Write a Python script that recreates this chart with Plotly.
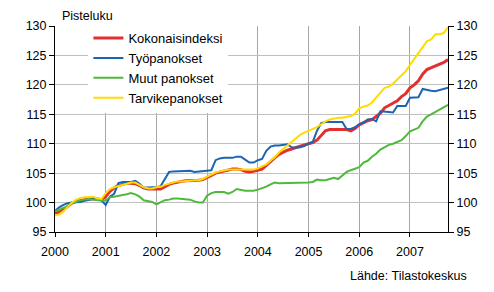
import plotly.graph_objects as go

start_year = 2000
years = [2000, 2001, 2002, 2003, 2004, 2005, 2006, 2007]
y_ticks = [95, 100, 105, 110, 115, 120, 125, 130]

kokonaisindeksi = [
    98.2, 98.4, 98.8, 99.3, 99.9, 100.2, 100.4, 100.5, 100.6, 100.7, 100.6, 100.5,
    101.0, 101.9, 102.5, 102.9, 103.1, 103.3, 103.3, 103.2, 102.9, 102.5, 102.3, 102.3,
    102.2, 102.3, 102.7, 103.1, 103.3, 103.5, 103.6, 103.7, 103.7, 103.8, 103.8, 103.9,
    104.2, 104.6, 105.0, 105.2, 105.4, 105.6, 105.7, 105.7, 105.6, 105.3, 105.2, 105.3,
    105.5, 105.7, 106.3, 107.0, 107.6, 108.2, 108.6, 108.9, 109.1, 109.4, 109.6, 109.8,
    110.0, 110.2, 110.6, 111.5, 112.2, 112.4, 112.4, 112.5, 112.5, 112.4, 112.2, 112.6,
    113.2, 113.6, 113.9, 114.1, 114.6, 115.2, 116.1, 116.5, 116.8, 117.3, 118.0, 118.5,
    119.5, 120.0, 120.7, 121.8, 122.6, 122.9, 123.3, 123.5, 123.8, 124.3,
]
tyopanokset = [
    98.6, 99.2, 99.6, 99.9, 100.0, 100.0, 100.1, 100.3, 100.5, 100.6, 100.5, 100.4,
    99.6, 101.0, 101.5, 103.3, 103.5, 103.5, 103.5, 103.7, 103.2, 102.5, 102.6, 102.6,
    102.6, 102.8, 104.0, 105.2, 105.3, 105.3, 105.4, 105.4, 105.4, 105.2, 105.3, 105.4,
    105.4, 105.5, 107.2, 107.5, 107.6, 107.6, 107.6, 107.8, 107.8, 107.3, 106.8, 106.8,
    107.2, 107.4, 108.8, 109.5, 109.7, 109.7, 109.8, 109.9, 109.4, 109.3, 109.4, 109.6,
    110.0, 110.3, 112.2, 113.5, 113.7, 113.7, 113.7, 113.8, 113.7, 112.5, 112.5, 112.8,
    113.3, 113.6, 114.1, 114.2, 113.8, 115.5, 115.5, 115.4, 115.3, 116.4, 116.4, 116.4,
    117.8, 117.9, 117.9, 119.3, 119.1, 119.0, 118.9, 119.1, 119.3, 119.5,
]
muut_panokset = [
    98.5, 98.8, 99.1, 99.4, 99.9, 100.2, 100.4, 100.5, 100.6, 100.5, 100.4, 100.3,
    100.4, 100.9, 101.0, 101.2, 101.3, 101.4, 101.6, 101.4, 101.0, 100.4, 100.2, 100.1,
    99.7, 100.1, 100.4, 100.5, 100.7, 100.7, 100.6, 100.6, 100.5, 100.2, 100.0, 100.0,
    101.2, 101.6, 101.8, 101.8, 101.8, 101.5, 101.8, 102.3, 102.1, 102.0, 102.0, 102.0,
    102.2, 102.4, 102.7, 103.1, 103.4, 103.3, 103.3, 103.4, 103.4, 103.4, 103.4, 103.4,
    103.4, 103.5, 103.9, 103.8, 103.8, 104.0, 104.2, 104.0, 104.6, 105.2, 105.5, 105.8,
    106.0, 106.8, 107.1, 107.8, 108.3, 109.0, 109.4, 109.8, 110.0, 110.3, 110.6, 111.3,
    112.1, 112.4, 112.7, 113.8, 114.6, 115.0, 115.4, 115.8, 116.3, 116.6,
]
tarvikepanokset = [
    97.8, 98.0, 98.5, 99.2, 100.0, 100.5, 100.8, 100.9, 101.0, 101.0, 100.7, 100.6,
    101.6, 102.3, 102.6, 102.8, 103.0, 103.2, 103.4, 103.4, 103.0, 102.6, 102.4, 102.4,
    102.6, 102.7, 103.0, 103.2, 103.4, 103.6, 103.6, 103.7, 103.7, 103.8, 103.8, 104.0,
    104.4, 104.8, 105.1, 105.3, 105.5, 105.6, 105.6, 105.6, 105.5, 105.5, 105.5, 105.6,
    105.8, 106.1, 106.5, 107.1, 107.7, 108.5, 109.1, 109.7, 110.4, 111.0, 111.5, 111.9,
    112.2, 112.5, 112.8, 113.3, 113.8, 114.1, 114.3, 114.4, 114.4, 114.5, 114.7, 115.1,
    116.0, 116.3, 116.5, 117.0, 117.8, 118.6, 119.5, 119.7, 120.2, 120.9, 121.6, 122.3,
    123.4, 124.4, 125.3, 126.3, 127.4, 127.7, 128.6, 128.6, 128.8, 129.8,
]

series_names = ["Kokonaisindeksi", "Työpanokset", "Muut panokset", "Tarvikepanokset"]
series_values = [kokonaisindeksi, tyopanokset, muut_panokset, tarvikepanokset]
colors = ["#E2302F", "#1E64B4", "#50B83C", "#FFDC00"]
widths = [3, 2, 2, 2]

x = [start_year + i / 12 for i in range(len(kokonaisindeksi))]

FONT = "Liberation Sans, Arial, sans-serif"

fig = go.Figure()
for name, vals, c, w in zip(series_names, series_values, colors, widths):
    fig.add_trace(go.Scatter(x=x, y=vals, name=name, mode="lines",
                             line=dict(color=c, width=w)))
# invisible trace to carry the right-hand axis
fig.add_trace(go.Scatter(x=[x[0]], y=[kokonaisindeksi[0]], yaxis="y2",
                         mode="lines", line=dict(width=0), showlegend=False,
                         hoverinfo="skip"))

yaxis_common = dict(range=[95, 130], tickvals=y_ticks, ticks="outside", ticklen=5,
                    tickcolor="black", showline=True, linecolor="black", linewidth=1,
                    zeroline=False, tickfont=dict(size=12.5, color="black", family=FONT))

fig.update_layout(
    width=494, height=292,
    margin=dict(l=55, r=46, t=26, b=60),
    paper_bgcolor="white", plot_bgcolor="white",
    font=dict(family=FONT, size=12, color="black"),
    xaxis=dict(range=[2000, 2000 + 93 / 12], tickvals=years,
               ticktext=[str(y) for y in years], ticks="outside", ticklen=4,
               tickcolor="black", showline=True, linecolor="black", linewidth=1,
               showgrid=True, gridcolor="#A6A6A6", gridwidth=1, zeroline=False,
               ticklabelstandoff=4,
               tickfont=dict(size=12.5, color="black", family=FONT)),
    yaxis=dict(**yaxis_common, showgrid=True, gridcolor="#C0C0C0", gridwidth=1),
    yaxis2=dict(**yaxis_common, overlaying="y", side="right", showgrid=False),
    legend=dict(x=0.085, y=1.014, xanchor="left", yanchor="top",
                bgcolor="white", borderwidth=0, tracegroupgap=0,
                font=dict(size=13, family=FONT, color="black")),
    showlegend=True,
    annotations=[
        dict(text="Pisteluku", xref="paper", yref="paper", x=5 / 393, y=1.0,
             xanchor="left", yanchor="bottom", yshift=1, showarrow=False,
             font=dict(size=12.5, family=FONT, color="black")),
        dict(text="Lähde: Tilastokeskus", xref="paper", yref="paper", x=(469 - 55) / 393,
             y=0, xanchor="right", yanchor="middle", yshift=-44, showarrow=False,
             font=dict(size=12.5, family=FONT, color="black")),
    ],
)

fig.write_html("out.html")
